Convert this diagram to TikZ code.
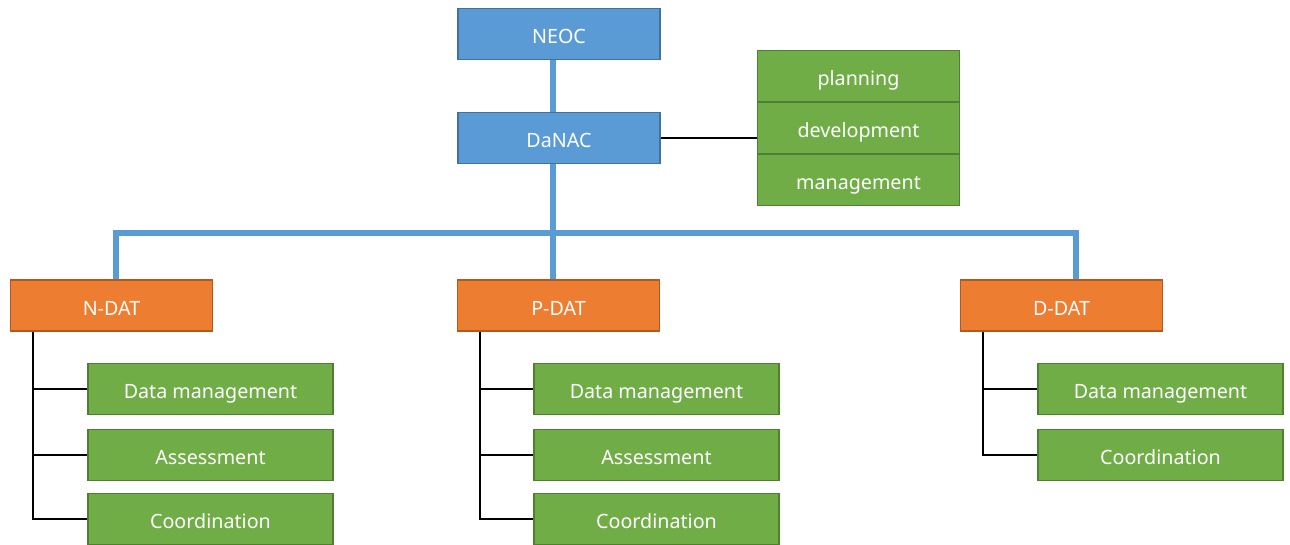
\documentclass[tikz,border=0pt]{standalone}
\usepackage{fontspec}
\setmainfont{Noto Sans}
\usetikzlibrary{calc}
\definecolor{boxblue}{HTML}{5B9BD5}
\definecolor{boxblueline}{HTML}{41719C}
\definecolor{boxorange}{HTML}{ED7D31}
\definecolor{boxorangeline}{HTML}{AE5A21}
\definecolor{boxgreen}{HTML}{70AD47}
\definecolor{boxgreenline}{HTML}{507E32}

\begin{document}
\begin{tikzpicture}[x=1pt, y=-1pt,
  box/.style={draw, line width=1.5pt, minimum width=202pt, minimum height=51pt,
    inner sep=0pt, text height=19pt, text depth=0pt, text=white,
    font=\fontsize{19.7}{22}\selectfont},
  topbox/.style={box, fill=boxblue, draw=boxblueline},
  teambox/.style={box, fill=boxorange, draw=boxorangeline},
  taskbox/.style={box, fill=boxgreen, draw=boxgreenline, minimum width=245pt},
  bus/.style={draw=boxblue, line width=6pt},
  link/.style={draw=black, line width=2pt}]
\useasboundingbox (0,0) rectangle (1290,544);

% top of the chart
\node[topbox] (neoc) at (559,34) {NEOC};
\node[topbox] (danac) at (559,138) {DaNAC};
\node[taskbox, minimum width=202pt] (plan) at (858.5,76) {planning};
\node[taskbox, minimum width=202pt] (dev) at (858.5,128) {development};
\node[taskbox, minimum width=202pt] (man) at (858.5,180) {management};

% the three teams
\node[teambox] (ndat) at (111.5,305.5) {N-DAT};
\node[teambox] (pdat) at (558.5,305.5) {P-DAT};
\node[teambox] (ddat) at (1061.5,305.5) {D-DAT};

\node[taskbox] (ndm) at (210.5,389) {Data management};
\node[taskbox] (nas) at (210.5,455) {Assessment};
\node[taskbox] (nco) at (210.5,519) {Coordination};
\node[taskbox] (pdm) at (656.5,389) {Data management};
\node[taskbox] (pas) at (656.5,455) {Assessment};
\node[taskbox] (pco) at (656.5,519) {Coordination};
\node[taskbox] (ddm) at (1160.5,389) {Data management};
\node[taskbox] (dco) at (1160.5,455) {Coordination};

% connectors
\coordinate (bus) at (553,233);
\draw[bus] ($(neoc.south)+(-6,0)$) -- ($(danac.north)+(-6,0)$);
\draw[bus] (danac.south -| bus) -- (pdat.north -| bus);
\draw[bus] ($(ndat.north)+(4.5,0)$) |- (bus) -| ($(ddat.north)+(14.5,0)$);
\draw[link] (danac.east) -- (danac.east -| dev.west);
\foreach \t in {ndm,nas,nco} \draw[link] ($(ndat.south west)+(23,0)$) |- (\t.west);
\foreach \t in {pdm,pas,pco} \draw[link] ($(pdat.south west)+(23,0)$) |- (\t.west);
\foreach \t in {ddm,dco} \draw[link] ($(ddat.south west)+(23,0)$) |- (\t.west);
\end{tikzpicture}
\end{document}
